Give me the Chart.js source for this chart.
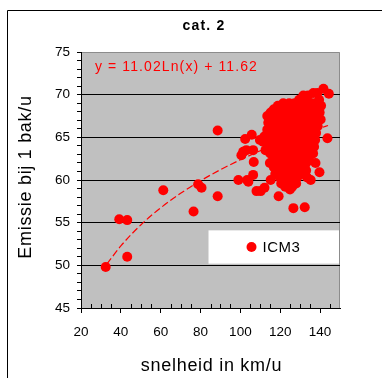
<!DOCTYPE html>
<html>
<head>
<meta charset="utf-8">
<script src="https://cdn.jsdelivr.net/npm/chart.js@4/dist/chart.umd.min.js"></script>
<style>
html,body{margin:0;padding:0;background:#fff;}
#c{display:block;}
</style>
</head>
<body>
<canvas id="c" width="382" height="378"></canvas>
<script>
// ---- data ----
const chartTitle = "cat. 2";
const seriesName = "ICM3";
const equationText = "y = 11.02Ln(x) + 11.62";
const xTitle = "snelheid in km/u";
const yTitle = "Emissie bij 1 bak/u";
const xTickLabels = [20, 40, 60, 80, 100, 120, 140];
const yTickLabels = [45, 50, 55, 60, 65, 70, 75];

const speed = [
  32.4, 39.2, 43.2, 43.2, 61.3, 76.5, 78.8, 80.5, 88.6, 88.6, 101.4, 104.0, 114.8, 112.1,
  141.7, 144.4, 136.6, 138.6, 131.6, 134.0,
  129.5, 139.5, 121.5, 124.5, 127.2, 133.0, 136.2,
  118.8, 130.2, 138.4, 140.5, 116.8, 122.8, 125.8, 128.8, 134.5,
  115.2, 119.8, 131.8, 137.2, 139.8, 113.5, 117.5, 122.0, 125.0, 128.0, 134.8,
  115.8, 120.2, 130.5, 137.5, 140.3, 114.0, 118.0, 123.2, 126.5, 133.0, 136.0,
  116.5, 120.8, 129.0, 138.8, 113.5, 118.8, 124.8, 131.8, 135.5,
  115.8, 121.8, 127.5, 134.0, 138.0, 112.0, 118.0, 124.0, 130.2, 136.5,
  143.7, 102.4, 105.7, 109.8, 115.0, 120.5, 127.0, 133.0, 137.5,
  111.4, 117.8, 123.5, 129.8, 135.5, 114.5, 120.0, 126.0, 132.2, 137.0,
  103.0, 106.4, 112.6, 117.0, 123.0, 129.0, 134.8, 115.0, 120.2, 126.0, 131.5, 136.5,
  100.5, 117.8, 123.2, 128.8, 133.8, 116.5, 120.5, 126.0, 131.0, 134.5,
  106.7, 137.7, 118.5, 123.5, 128.5, 132.8, 116.8, 121.0, 126.0, 130.5,
  119.0, 124.0, 128.5, 133.0, 139.7, 117.5, 121.8, 126.5, 131.0, 106.4,
  119.8, 124.0, 128.5, 133.5, 99.0, 103.4, 115.2, 122.0, 126.0, 135.3,
  120.5, 124.5, 128.0, 122.5, 126.0, 124.9, 108.1, 110.2, 119.2, 126.6, 132.3
];
const emission = [
  49.8, 55.4, 55.3, 51.0, 58.8, 56.3, 59.5, 59.1, 65.8, 58.1, 63.3, 59.8, 62.0, 59.1,
  70.7, 70.1, 70.2, 70.2, 69.9, 69.9,
  69.4, 69.4, 69.0, 69.0, 69.0, 69.0, 69.0,
  68.7, 68.7, 68.7, 68.7, 68.3, 68.3, 68.3, 68.3, 68.3,
  67.9, 67.9, 67.9, 67.9, 67.9, 67.5, 67.5, 67.5, 67.5, 67.5, 67.5,
  67.1, 67.1, 67.1, 67.1, 67.1, 66.7, 66.7, 66.7, 66.7, 66.7, 66.7,
  66.3, 66.3, 66.3, 66.3, 65.9, 65.9, 65.9, 65.9, 65.9,
  65.5, 65.5, 65.5, 65.5, 65.5, 65.1, 65.1, 65.1, 65.1, 65.1,
  64.9, 64.8, 65.3, 64.7, 64.7, 64.7, 64.7, 64.7, 64.7,
  64.5, 64.3, 64.3, 64.3, 64.3, 63.9, 63.9, 63.9, 63.9, 63.9,
  63.5, 63.5, 63.5, 63.5, 63.5, 63.5, 63.5, 63.1, 63.1, 63.1, 63.1, 63.1,
  62.9, 62.7, 62.7, 62.7, 62.7, 62.3, 62.3, 62.3, 62.3, 62.3,
  62.1, 62.0, 61.9, 61.9, 61.9, 61.9, 61.5, 61.5, 61.5, 61.5,
  61.1, 61.1, 61.1, 61.1, 60.9, 60.7, 60.7, 60.7, 60.7, 60.6,
  60.3, 60.3, 60.3, 60.3, 60.0, 60.0, 60.0, 60.0, 60.0, 60.0,
  59.6, 59.6, 59.6, 59.2, 59.2, 58.9, 58.7, 58.7, 58.1, 56.7, 56.8
];

// trend line points
const trendX = [33, 40, 50, 60, 70, 80, 90, 100, 110, 120, 130, 140, 144];
const trendY = [50.15, 52.27, 54.73, 56.74, 58.44, 59.91, 61.21, 62.37, 63.42, 64.38, 65.26, 66.08, 66.39];

const points = speed.map((x, i) => ({x: x, y: emission[i]}));
const trend = trendX.map((x, i) => ({x: x, y: trendY[i]}));

const FONT = "'Liberation Sans', Arial, sans-serif";

const decor = {
  id: 'decor',
  beforeDraw(chart) {
    const ctx = chart.ctx, a = chart.chartArea;
    ctx.save();
    ctx.fillStyle = '#ffffff';
    ctx.fillRect(0, 0, chart.width, chart.height);
    // outer frame
    ctx.strokeStyle = '#000';
    ctx.lineWidth = 1;
    ctx.beginPath();
    ctx.moveTo(7.5, chart.height + 2);
    ctx.lineTo(7.5, 10.5);
    ctx.lineTo(chart.width + 2, 10.5);
    ctx.stroke();
    // plot area
    ctx.fillStyle = '#c0c0c0';
    ctx.fillRect(a.left, a.top, a.right - a.left, a.bottom - a.top);
    ctx.strokeStyle = '#8c8c8c';
    ctx.beginPath();
    ctx.moveTo(a.left, a.top + 0.5);
    ctx.lineTo(a.right - 0.5, a.top + 0.5);
    ctx.lineTo(a.right - 0.5, a.bottom);
    ctx.stroke();
    ctx.restore();
  },
  afterDraw(chart) {
    const ctx = chart.ctx, a = chart.chartArea;
    const xs = chart.scales.x, ys = chart.scales.y;
    ctx.save();
    // minor x ticks pointing into plot
    ctx.strokeStyle = '#000';
    ctx.lineWidth = 1;
    ctx.beginPath();
    for (let v = xs.min + 5; v < xs.max; v += 5) {
      if (v % 20 === 0) continue;
      const px = Math.round(xs.getPixelForValue(v)) + 0.5;
      ctx.moveTo(px, a.bottom);
      ctx.lineTo(px, a.bottom - 4);
    }
    ctx.stroke();
    // chart title
    ctx.fillStyle = '#000';
    ctx.font = "bold 14px " + FONT;
    ctx.letterSpacing = '1.2px';
    ctx.textAlign = 'center';
    ctx.textBaseline = 'middle';
    ctx.fillText(chartTitle, 204, 26);
    // axis titles
    ctx.font = "18px " + FONT;
    ctx.letterSpacing = '0.7px';
    ctx.fillText(xTitle, (a.left + a.right) / 2 + 1, 366);
    ctx.save();
    ctx.translate(26, 177);
    ctx.rotate(-Math.PI / 2);
    ctx.fillText(yTitle, 0, 0);
    ctx.restore();
    // equation
    ctx.fillStyle = '#ff0000';
    ctx.font = "14px " + FONT;
    ctx.letterSpacing = '1.1px';
    ctx.textAlign = 'left';
    ctx.fillText(equationText, 95, 67);
    // legend box
    const lx0 = xs.getPixelForValue(84), lx1 = a.right - 1;
    const ly0 = ys.getPixelForValue(54.1), ly1 = ys.getPixelForValue(50.2);
    ctx.fillStyle = '#ffffff';
    ctx.fillRect(lx0, ly0, lx1 - lx0, ly1 - ly0);
    const cy = (ly0 + ly1) / 2;
    ctx.fillStyle = '#ff0000';
    ctx.beginPath();
    ctx.arc(lx0 + 43, cy, 5, 0, Math.PI * 2);
    ctx.fill();
    ctx.fillStyle = '#000';
    ctx.font = "15px " + FONT;
    ctx.letterSpacing = '0.5px';
    ctx.fillText(seriesName, lx0 + 54, cy + 1);
    ctx.restore();
  }
};

new Chart(document.getElementById('c'), {
  type: 'scatter',
  data: {
    datasets: [
      {
        label: seriesName,
        data: points,
        backgroundColor: '#ff0000',
        borderColor: '#ff0000',
        borderWidth: 0,
        pointRadius: 5,
        pointHoverRadius: 5,
        order: 2
      },
      {
        label: 'trend',
        data: trend,
        showLine: true,
        borderColor: '#ff0000',
        borderWidth: 1.2,
        borderDash: [7, 3],
        pointRadius: 0,
        cubicInterpolationMode: 'monotone',
        fill: false,
        order: 1
      }
    ]
  },
  options: {
    responsive: false,
    animation: false,
    devicePixelRatio: 1,
    layout: { padding: { left: 8, right: 42, top: 52, bottom: 0 } },
    plugins: {
      legend: { display: false },
      title: { display: false },
      tooltip: { enabled: false }
    },
    scales: {
      x: {
        type: 'linear',
        min: 20, max: 150,
        afterFit(s) { s.height = 70; },
        border: { display: true, color: '#000', width: 1 },
        grid: {
          drawOnChartArea: false,
          tickLength: 5,
          tickColor: (c) => (c.tick && xTickLabels.includes(c.tick.value)) ? '#000' : 'rgba(0,0,0,0)'
        },
        ticks: {
          stepSize: 5,
          autoSkip: false,
          maxRotation: 0,
          padding: 11,
          color: '#000',
          font: { family: FONT, size: 13.5 },
          callback: (v) => xTickLabels.includes(v) ? String(v) : ''
        },
        title: { display: false, text: xTitle }
      },
      y: {
        type: 'linear',
        min: 45, max: 75,
        afterFit(s) { s.width = 73; },
        border: { display: true, color: '#000', width: 1 },
        grid: {
          drawOnChartArea: true,
          tickLength: 4,
          color: (c) => (c.tick && c.tick.value % 5 === 0 && c.tick.value > 45 && c.tick.value < 75) ? '#000' : 'rgba(0,0,0,0)',
          tickColor: '#000'
        },
        ticks: {
          stepSize: 1,
          autoSkip: false,
          padding: 7,
          color: '#000',
          font: { family: FONT, size: 13.5 },
          callback: (v) => yTickLabels.includes(v) ? String(v) : ''
        },
        title: { display: false, text: yTitle }
      }
    }
  },
  plugins: [decor]
});
</script>
</body>
</html>
